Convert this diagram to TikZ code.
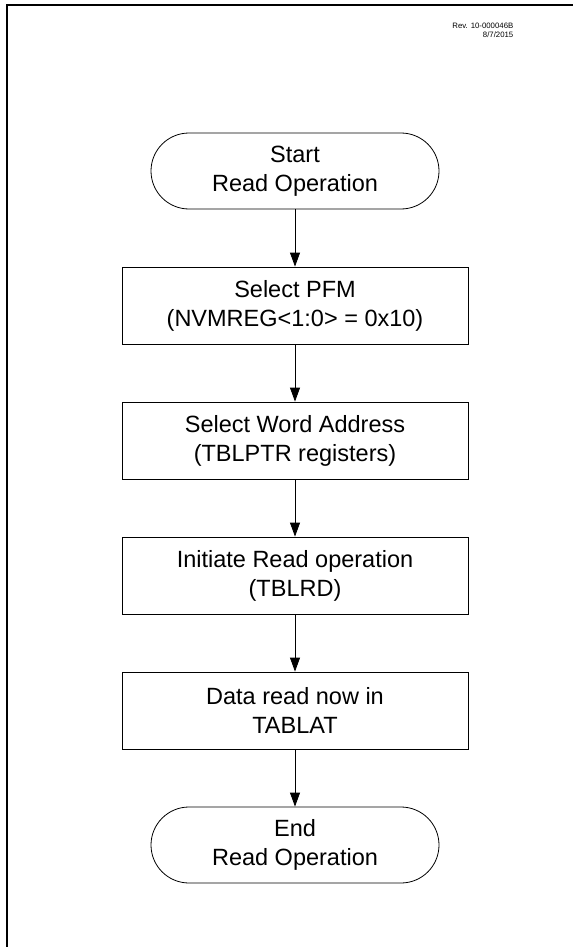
\documentclass[tikz,border=0pt]{standalone}
\usepackage{fontspec}
\setmainfont{Liberation Sans}
\usetikzlibrary{arrows.meta}
\begin{document}
\begin{tikzpicture}[x=1pt,y=-1pt,
  flowtext/.style={font=\fontsize{23.5}{29}\selectfont, align=center, inner sep=0pt},
  term/.style={flowtext, draw, line width=0.8pt, rounded corners=38pt, minimum width=288pt, minimum height=76pt},
  procbox/.style={flowtext, draw, line width=0.8pt, minimum width=346pt, minimum height=77pt},
  flow/.style={line width=0.8pt, -{Triangle[length=14pt,width=10pt]}},
  frameline/.style={line width=2.5pt}]
\useasboundingbox (0,0) rectangle (573,947);
% frame (top and left edges only)
\coordinate (fbl) at (7,947);
\coordinate (ftl) at (7,5);
\coordinate (ftr) at (573,5);
\draw[frameline] (fbl) -- (ftl) -- (ftr);
% revision note
\node[anchor=north east, inner sep=0pt, align=right, font=\fontsize{7.8}{9}\selectfont] (rev) at (513.5,22.5) {Rev. 10-000046B\\8/7/2015};
% flow nodes
\node[term] (start) at (295,171) {Start\\Read Operation};
\node[procbox] (pfm) at (295,305.5) {Select PFM\\(NVMREG<1:0> = 0x10)};
\node[procbox] (addr) at (295,440.5) {Select Word Address\\(TBLPTR registers)};
\node[procbox] (rd) at (295,575.5) {Initiate Read operation\\(TBLRD)};
\node[procbox] (data) at (295,710.5) {Data read now in\\TABLAT};
\node[term] (end) at (295,845) {End\\Read Operation};
% connectors
\draw[flow] (start) -- (pfm);
\draw[flow] (pfm) -- (addr);
\draw[flow] (addr) -- (rd);
\draw[flow] (rd) -- (data);
\draw[flow] (data) -- (end);
\end{tikzpicture}
\end{document}
